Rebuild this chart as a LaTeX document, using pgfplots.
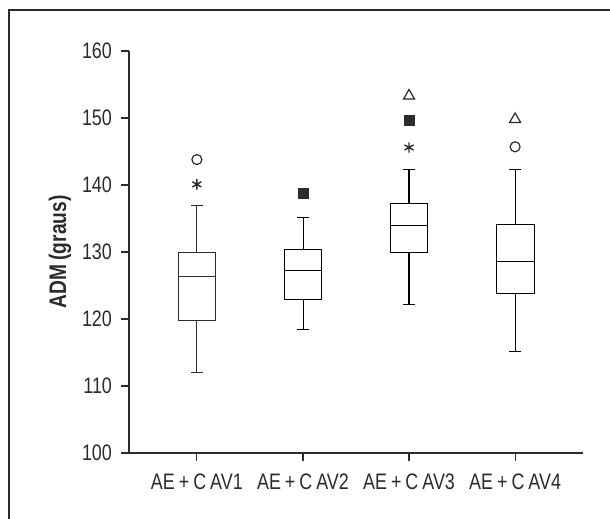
\documentclass[border=0pt]{standalone}
\usepackage{fontspec}
\setmainfont{Liberation Sans}[FakeStretch=0.8, WordSpace=0.8]
\usepackage{pgfplots}
\pgfplotsset{compat=1.18}
\usepgfplotslibrary{statistics}
\definecolor{InkGray}{HTML}{2B2B2B}

\begin{document}
\begin{tikzpicture}
\begin{axis}[
  at={(0,0)}, anchor=south west,
  scale only axis, width=227pt, height=201pt,
  xmin=0.36, xmax=4.64, ymin=100, ymax=160,
  axis lines=left,
  axis line style={InkGray, line width=0.6pt, -},
  xtick={1,2,3,4},
  xticklabels={AE + C AV1, AE + C AV2, AE + C AV3, AE + C AV4},
  ytick={100,110,...,160},
  tick align=outside, major tick length=4pt,
  tick style={InkGray, line width=0.6pt},
  tick label style={font=\fontsize{11.2}{13}\selectfont, text=InkGray},
  /pgf/number format/assume math mode=true,
  yticklabel style={xshift=-1pt},
  xticklabel style={yshift=-3pt},
  ylabel={ADM (graus)},
  every axis y label/.style={at={(axis description cs:-0.152,0.5)}, rotate=90, anchor=center,
    font=\fontsize{12}{14}\selectfont\bfseries, text=InkGray},
  clip=false,
  cycle list={{InkGray, solid, line width=0.6pt, mark=none}},
  boxplot/draw direction=y,
]
% boxes
\addplot+[boxplot prepared={draw position=1, lower whisker=112.1, lower quartile=119.8, median=126.3, upper quartile=130.0, upper whisker=136.9, box extend=0.355, whisker extend=0.113}] coordinates {};
\addplot+[boxplot prepared={draw position=2, lower whisker=118.4, lower quartile=123.0, median=127.3, upper quartile=130.4, upper whisker=135.1, box extend=0.355, whisker extend=0.113}] coordinates {};
\addplot+[boxplot prepared={draw position=3, lower whisker=122.2, lower quartile=129.9, median=134.0, upper quartile=137.2, upper whisker=142.3, box extend=0.355, whisker extend=0.113}] coordinates {};
\addplot+[boxplot prepared={draw position=4, lower whisker=115.1, lower quartile=123.8, median=128.6, upper quartile=134.1, upper whisker=142.3, box extend=0.355, whisker extend=0.113}] coordinates {};
% outliers
\addplot[only marks, mark=o, mark size=2.5pt, InkGray, line width=0.6pt] coordinates {(1,143.8) (4,145.7)};
\addplot[only marks, mark=asterisk, mark size=2.6pt, InkGray, line width=0.7pt] coordinates {(1,140.1) (3,145.6)};
\addplot[only marks, mark=square*, mark size=2.5pt, InkGray] coordinates {(2,138.7) (3,149.6)};
\addplot[only marks, mark=triangle, mark size=3.2pt, InkGray, line width=0.6pt] coordinates {(3,153.3) (4,149.8)};
\end{axis}
% outer frame (only top and left edges fall inside the picture)
\draw[InkGray, line width=0.6pt] (-60pt,-40pt) -- (-60pt,221.5pt) -- (250pt,221.5pt);
\pgfresetboundingbox
\path[use as bounding box] (-64.5pt,-33pt) rectangle (240.5pt,226.5pt);
\end{tikzpicture}
\end{document}
